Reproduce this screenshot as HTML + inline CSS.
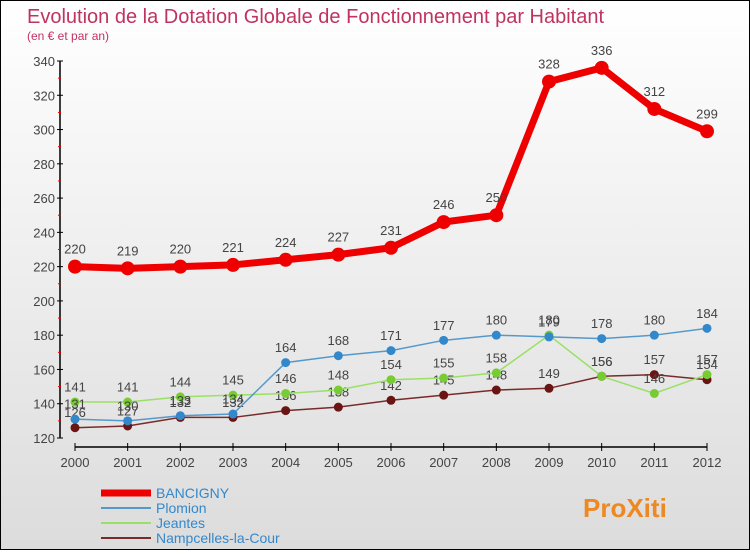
<!DOCTYPE html>
<html><head><meta charset="utf-8"><style>
body{margin:0}
#c{width:748px;height:548px;border:1px solid #000;background:linear-gradient(#fff,#dcdcdc);position:relative;font-family:"Liberation Sans",sans-serif}
</style></head><body>
<div id="c">
<svg id="s" width="748" height="548" xmlns="http://www.w3.org/2000/svg">
<text x="26" y="22" font-size="20" fill="#c0335f">Evolution de la Dotation Globale de Fonctionnement par Habitant</text>
<text x="26" y="39" font-size="12" fill="#c0335f">(en € et par an)</text>
</svg></div>
<script>
const years=[2000,2001,2002,2003,2004,2005,2006,2007,2008,2009,2010,2011,2012];
const bancigny=[220,219,220,221,224,227,231,246,250,328,336,312,299];
const plomion=[131,130,133,134,164,168,171,177,180,179,178,180,184];
const jeantes=[141,141,144,145,146,148,154,155,158,180,156,146,157];
const nampcelles=[126,127,132,132,136,138,142,145,148,149,156,157,154];
const yTicks=[120,140,160,180,200,220,240,260,280,300,320,340];
const svg=document.getElementById('s');
const NS='http://www.w3.org/2000/svg';
const X=i=>74+i*(632/12);
const Y=v=>437-(v-120)*(377/220);
function el(t,a,p){const e=document.createElementNS(NS,t);for(const k in a)e.setAttribute(k,a[k]);(p||svg).appendChild(e);return e;}
let ax=el('line',{x1:59,y1:Y(340),x2:59,y2:437,stroke:'#000','stroke-width':1.5});


let bx=el('line',{x1:X(0),y1:446,x2:X(12),y2:446,stroke:'#000','stroke-width':1.5});


yTicks.forEach(v=>{
  el('line',{x1:56,y1:Y(v),x2:62,y2:Y(v),stroke:'#000'});
  if(v<340)el('line',{x1:57,y1:Y(v+10),x2:60,y2:Y(v+10),stroke:'#e00'});
  const t=el('text',{x:54,y:Y(v)+5,'text-anchor':'end','font-size':13,fill:'#444'});
  t.textContent=v;
  
  
});
years.forEach((y,i)=>{
  el('line',{x1:X(i),y1:442,x2:X(i),y2:450,stroke:'#000'});
  const t=el('text',{x:X(i),y:466,'text-anchor':'middle','font-size':13,fill:'#444'});
  t.textContent=y;
  
  
});
function series(d,color,dark,w,r,name,fs){
  const g=el('g',{});
  
  
  el('polyline',{points:d.map((v,i)=>X(i)+','+Y(v)).join(' '),fill:'none',stroke:color,'stroke-width':w},g);
  d.forEach((v,i)=>{
    const c=el('circle',{cx:X(i),cy:Y(v),r:r,fill:dark||color},g);
    
    
    const t=el('text',{x:X(i),y:Y(v)-(r+6),'text-anchor':'middle','font-size':fs,fill:'#444'},g);
    t.textContent=v;
    
    
  });
}
series(nampcelles,'#7a2a2a','#6b1414',1.5,4.5,'nampcelles',13);
series(jeantes,'#99e066','#77cc33',1.5,4.5,'jeantes',13);
series(plomion,'#5599cc','#3388cc',1.5,4.5,'plomion',13);
series(bancigny,'#ee0000','#ee0000',7,7,'bancigny',13);
const leg=[['BANCIGNY','#ee0000',7],['Plomion','#5599cc',2],['Jeantes','#99e066',2],['Nampcelles-la-Cour','#7a2a2a',2]];
leg.forEach((l,i)=>{
  const y=492+i*15;
  const g=el('g',{});
  
  
  el('line',{x1:100,y1:y,x2:150,y2:y,stroke:l[1],'stroke-width':l[2]},g);
  const t=el('text',{x:155,y:y+5,'font-size':14,fill:'#3388cc'},g);
  t.textContent=l[0];
});
const p=el('text',{x:582,y:516,'font-size':26,'font-weight':'bold',fill:'#ee8822'});
p.textContent='ProXiti';


</script>
</body></html>
